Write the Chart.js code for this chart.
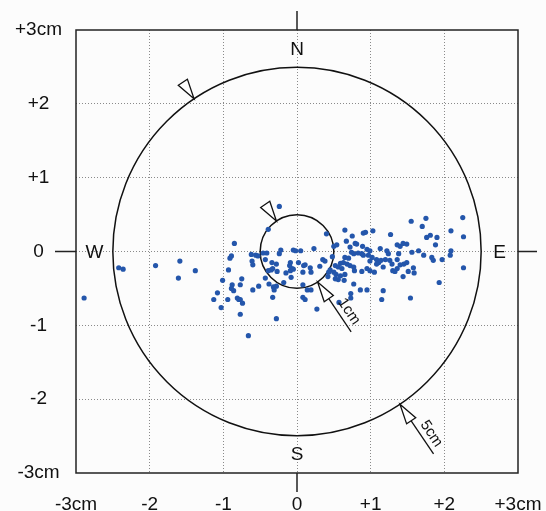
<!DOCTYPE html>
<html lang="en">
<head>
  <meta charset="UTF-8">
  <title>Impact scatter</title>
  <script src="https://cdn.jsdelivr.net/npm/chart.js"></script>
  <style>
    html, body { margin: 0; padding: 0; background: #fcfcfc; }
    .chart-box { width: 546px; height: 511px; }
  </style>
</head>
<body>

<div class="chart-box">
  <canvas id="impactChart" width="546" height="511"></canvas>
</div>

<script>
  // Point positions in cm
  const xValues = [
    -2.89, -2.42, -2.36, -1.92, -1.59, -1.61, -1.38, -0.85, -0.91, -0.89, -0.93, -1.01, -0.88, -0.75, -0.77,
    -0.89, -0.86, -1.08, -1.13, -1.03, -0.94, -0.81, -0.79, -0.77, -0.74, -0.77, -0.66, -0.60, -0.52, -0.61,
    -0.60, -0.56, -0.53, -0.62,
    -0.24, -0.39, 0.40, -0.46, -0.41, -0.22, -0.05, -0.02, 0.05, 0.23, -0.24, -0.43, -0.34, -0.28, -0.09,
    0.02, 0.11, 0.09, 0.18, 0.35, 0.38, 0.31, -0.35, -0.39, -0.33, -0.27, -0.10, -0.07, -0.09, -0.05,
    -0.15, 0.08, 0.19, -0.08, -0.43, -0.18, -0.38, -0.32, -0.28, -0.31, -0.33, 0.08, 0.14, 0.19, 0.08,
    0.11, 0.27, -0.28, 0.42,
    0.65, 0.75, 0.90, 0.93, 1.03, 1.27, 1.36, 0.67, 0.79, 0.81, 0.89, 0.95, 0.99, 1.13, 1.22,
    1.24, 0.50, 0.54, 0.72, 0.74, 0.77, 0.83, 0.88, 0.90, 0.97, 1.02, 0.99, 1.08, 1.11, 1.14,
    1.20, 1.26, 1.29, 1.36, 1.38, 0.65, 0.70, 0.59, 0.63, 0.68, 0.72, 0.52, 0.56, 0.61, 0.45,
    0.43, 0.50, 0.53, 0.59, 0.65, 0.52, 0.56, 0.64, 0.77, 0.78, 0.88, 0.95, 0.99, 1.05, 1.08,
    1.17, 1.30, 1.36, 0.77, 0.86, 0.95, 1.17, 0.73, 0.73, 1.15, 0.57, 0.48,
    1.55, 1.75, 1.70, 2.25, 2.26, 2.09, 1.76, 1.81, 1.90, 1.88, 1.40, 1.44, 1.49, 1.65, 1.56,
    1.72, 1.83, 1.85, 1.97, 2.09, 2.08, 2.26, 1.40, 1.45, 1.49, 1.33, 1.51, 1.58, 1.59, 1.44,
    1.93, 1.54
  ];
  const yValues = [
    -0.63, -0.22, -0.24, -0.19, -0.13, -0.36, -0.26, 0.11, -0.09, -0.06, -0.25, -0.39, -0.45, -0.37, -0.45,
    -0.50, -0.53, -0.56, -0.65, -0.76, -0.65, -0.63, -0.65, -0.65, -0.70, -0.85, -1.14, -0.52, -0.47, -0.13,
    -0.18, -0.05, -0.06, -0.04,
    0.61, 0.30, 0.24, -0.02, -0.02, 0.02, 0.02, 0.01, 0.01, 0.04, -0.03, -0.11, -0.15, -0.17, -0.15,
    -0.15, -0.18, -0.19, -0.22, -0.11, -0.13, -0.20, -0.25, -0.26, -0.23, -0.27, -0.19, -0.23, -0.26, -0.24,
    -0.29, -0.28, -0.28, -0.35, -0.36, -0.42, -0.44, -0.48, -0.47, -0.52, -0.62, -0.45, -0.52, -0.52, -0.62,
    -0.65, -0.78, -0.91, -0.34,
    0.29, 0.21, 0.25, 0.26, 0.28, 0.23, 0.09, 0.14, 0.11, 0.10, 0.07, 0.03, 0.01, 0.04, 0.01,
    -0.03, 0.07, 0.09, 0.06, -0.01, -0.03, -0.02, -0.03, -0.05, -0.05, -0.08, -0.13, -0.11, -0.15, -0.12,
    -0.11, -0.12, -0.17, -0.11, -0.03, -0.08, -0.09, -0.16, -0.15, -0.17, -0.19, -0.19, -0.21, -0.23, -0.25,
    -0.28, -0.28, -0.31, -0.33, -0.31, -0.37, -0.38, -0.39, -0.21, -0.26, -0.27, -0.23, -0.26, -0.28, -0.17,
    -0.21, -0.26, -0.23, -0.44, -0.52, -0.52, -0.53, -0.57, -0.63, -0.65, -0.69, -0.07,
    0.41, 0.45, 0.34, 0.46, 0.20, 0.28, 0.19, 0.22, 0.19, 0.09, 0.07, 0.11, 0.10, 0.01, -0.01,
    -0.05, -0.08, -0.12, -0.11, 0.01, -0.05, -0.22, -0.18, -0.17, -0.15, -0.27, -0.27, -0.22, -0.29, -0.34,
    -0.42, -0.63
  ];

  // Axis ticks
  const tickValues = [-3, -2, -1, 0, 1, 2, 3];
  const tickLabels = ['-3cm', '-2', '-1', '0', '+1', '+2', '+3cm'];

  // Reference rings (radius in cm) and compass letters
  const ringRadii = [2.5, 0.5];
  const ringNames = ['5cm', '1cm'];
  const compassLetters = ['N', 'E', 'S', 'W'];

  const points = xValues.map((x, i) => ({ x: x, y: yValues[i] }));

  // draws the frame, rings, compass letters and ring markers
  const overlayPlugin = {
    id: 'overlay',
    beforeDatasetsDraw(chart) {
      const { ctx, chartArea: a, scales: { x, y } } = chart;
      const cx = x.getPixelForValue(0);
      const cy = y.getPixelForValue(0);
      const unit = x.getPixelForValue(1) - cx;

      ctx.save();
      ctx.strokeStyle = '#222';
      ctx.lineWidth = 1.5;
      ctx.strokeRect(a.left, a.top, a.width, a.height);

      // short solid ticks outside the frame on the centre lines
      const tl = 19;
      ctx.beginPath();
      ctx.moveTo(cx, a.top); ctx.lineTo(cx, a.top - tl);
      ctx.moveTo(cx, a.bottom); ctx.lineTo(cx, a.bottom + tl);
      ctx.moveTo(a.left, cy); ctx.lineTo(a.left - 21, cy);
      ctx.moveTo(a.right, cy); ctx.lineTo(a.right + tl, cy);
      ctx.stroke();

      ctx.strokeStyle = '#111';
      ringRadii.forEach(r => {
        ctx.beginPath();
        ctx.arc(cx, cy, r * unit, 0, Math.PI * 2);
        ctx.stroke();
      });
      ctx.restore();
    },
    afterDatasetsDraw(chart) {
      const { ctx, scales: { x, y } } = chart;
      const cx = x.getPixelForValue(0);
      const cy = y.getPixelForValue(0);
      const unit = x.getPixelForValue(1) - cx;

      ctx.save();
      ctx.fillStyle = '#111';
      ctx.font = '19px "Liberation Sans", Arial, sans-serif';
      ctx.textAlign = 'center';
      ctx.textBaseline = 'middle';
      const d = 2.75 * unit;
      const spots = [[cx, cy - d], [cx + d, cy], [cx, cy + d], [cx - d, cy]];
      compassLetters.forEach((l, i) => ctx.fillText(l, spots[i][0], spots[i][1] + 1));

      // triangle marker sitting on a ring, pointing at it
      const marker = (r, deg, withLine, label) => {
        const ang = deg * Math.PI / 180;
        const ux = Math.cos(ang), uy = -Math.sin(ang);
        const px = -uy, py = ux;
        const tipX = cx + ux * r * unit, tipY = cy + uy * r * unit;
        const len = 20, half = 5.5;
        const bx = tipX + ux * len, by = tipY + uy * len;
        ctx.beginPath();
        ctx.moveTo(tipX, tipY);
        ctx.lineTo(bx + px * half, by + py * half);
        ctx.lineTo(bx - px * half, by - py * half);
        ctx.closePath();
        ctx.fillStyle = '#fff';
        ctx.fill();
        ctx.strokeStyle = '#111';
        ctx.lineWidth = 1.3;
        ctx.stroke();
        if (withLine) {
          const ex = tipX + ux * 60, ey = tipY + uy * 60;
          ctx.beginPath();
          ctx.moveTo(bx, by);
          ctx.lineTo(ex, ey);
          ctx.stroke();
          ctx.save();
          ctx.translate(tipX + ux * 42, tipY + uy * 42);
          ctx.rotate(Math.atan2(uy, ux));
          ctx.fillStyle = '#111';
          ctx.font = '15px "Liberation Sans", Arial, sans-serif';
          ctx.textAlign = 'center';
          ctx.textBaseline = 'bottom';
          ctx.fillText(label, 0, -2);
          ctx.restore();
        }
      };
      ringRadii.forEach((r, i) => {
        marker(r, 124, false);
        marker(r, -56, true, ringNames[i]);
      });
      ctx.restore();
    }
  };

  const axisTicks = {
    stepSize: 1,
    color: '#111',
    font: { family: '"Liberation Sans", Arial, sans-serif', size: 19 },
    callback: v => tickLabels[tickValues.indexOf(v)]
  };

  const gridOpts = {
    color: c => (Math.abs(c.tick.value) === 3 ? 'rgba(0,0,0,0)' : '#8a8a8a'),
    lineWidth: 1,
    drawTicks: false
  };

  new Chart(document.getElementById('impactChart').getContext('2d'), {
    type: 'scatter',
    data: {
      datasets: [{
        data: points,
        pointRadius: 2.6,
        pointBorderWidth: 0,
        backgroundColor: '#2456ab'
      }]
    },
    options: {
      responsive: false,
      animation: false,
      layout: { padding: { top: 30, right: 28, left: 0, bottom: 0 } },
      plugins: { legend: { display: false }, tooltip: { enabled: false } },
      scales: {
        x: {
          min: -3, max: 3,
          ticks: Object.assign({ padding: 20, maxRotation: 0, autoSkip: false }, axisTicks),
          grid: gridOpts,
          border: { display: false, dash: [1, 2] },
          afterFit: s => { s.height = 38; s.paddingLeft = 0; s.paddingRight = 0; }
        },
        y: {
          min: -3, max: 3,
          ticks: Object.assign({ padding: 14, autoSkip: false, crossAlign: 'center' }, axisTicks),
          grid: gridOpts,
          border: { display: false, dash: [1, 2] },
          afterFit: s => { s.width = 76; s.paddingTop = 0; s.paddingBottom = 0; }
        }
      }
    },
    plugins: [overlayPlugin]
  });
</script>

</body>
</html>
